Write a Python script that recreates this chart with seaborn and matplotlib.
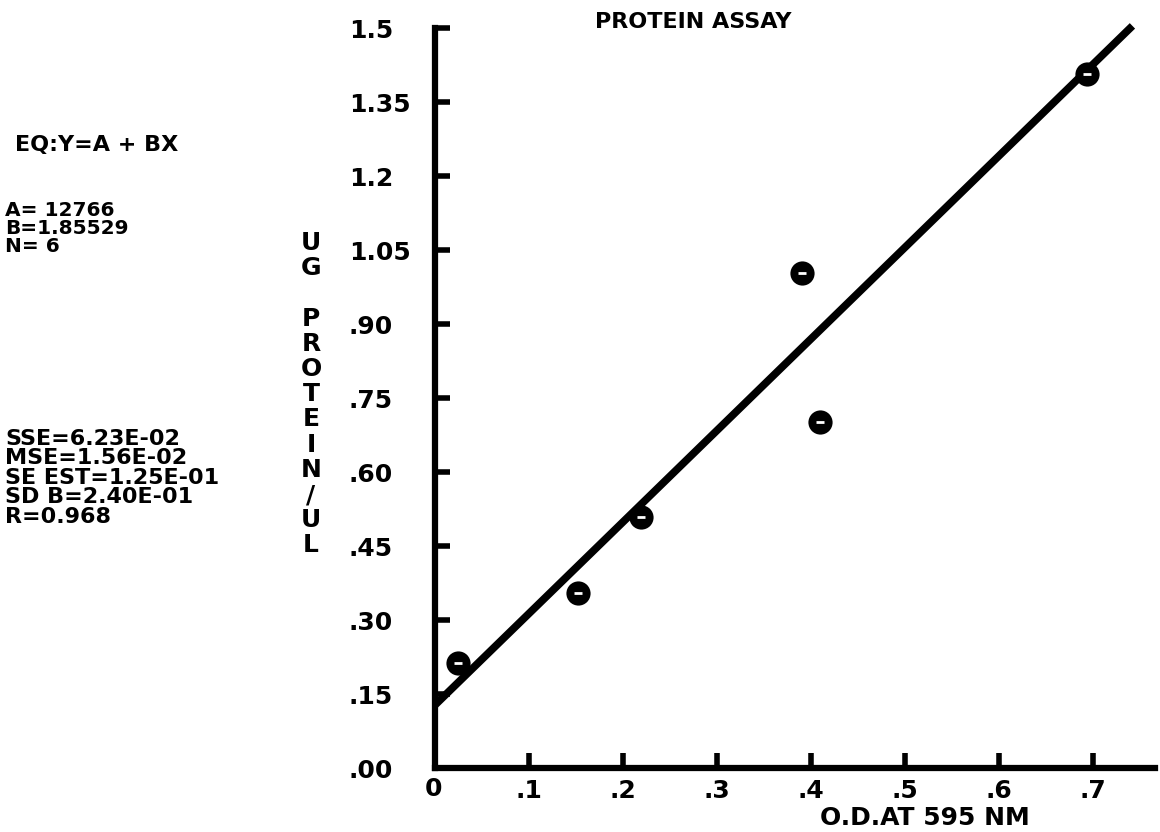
import matplotlib.pyplot as plt
import numpy as np
import pandas as pd
import seaborn as sns

# data
od_595 = [0.025, 0.152, 0.219, 0.390, 0.410, 0.694]
ug_protein = [0.213, 0.355, 0.509, 1.003, 0.701, 1.407]
fit_a = 0.12766
fit_b = 1.85529
fit_x = [0.0, 0.742]

y_ticks = [1.5, 1.35, 1.2, 1.05, 0.90, 0.75, 0.60, 0.45, 0.30, 0.15, 0.00]
y_tick_labels = ["1.5", "1.35", "1.2", "1.05", ".90", ".75", ".60", ".45", ".30", ".15", ".00"]
x_ticks = [0.1, 0.2, 0.3, 0.4, 0.5, 0.6, 0.7]
x_tick_labels = [".1", ".2", ".3", ".4", ".5", ".6", ".7"]

eq_lines = ["A= 12766", "B=1.85529", "N= 6"]
stat_lines = ["SSE=6.23E-02", "MSE=1.56E-02", "SE EST=1.25E-01", "SD B=2.40E-01", "R=0.968"]
y_label_letters = list("UG PROTEIN/UL")

sns.set_style("white")
plt.rcParams['font.family'] = ['DejaVu Sans']
plt.rcParams['font.weight'] = 'bold'
plt.rcParams['text.color'] = 'black'
plt.rcParams['xtick.color'] = 'black'
plt.rcParams['ytick.color'] = 'black'

W, H = 1160, 832
fig = plt.figure(figsize=(W / 100, H / 100), dpi=100)
ax = fig.add_axes([435 / W, 1 - 768 / H, (1155 - 435) / W, (768 - 28) / H])

pts = pd.DataFrame({"od": od_595, "protein": ug_protein})
line = pd.DataFrame({"od": fit_x, "protein": [fit_a + fit_b * v for v in fit_x]})

sns.lineplot(data=line, x="od", y="protein", color="black", linewidth=5.5,
             ax=ax, clip_on=False, solid_capstyle="butt")
sns.scatterplot(data=pts, x="od", y="protein", color="black", s=260,
                marker="o", edgecolor="black", ax=ax, zorder=4, clip_on=False)
ax.scatter(od_595, ug_protein, marker="_", s=40, color="white", linewidths=2, zorder=5)

ax.set_xlim(0, 0.766)
ax.set_ylim(0, 1.5)
for s in ["top", "right"]:
    ax.spines[s].set_visible(False)
for s in ["left", "bottom"]:
    ax.spines[s].set_linewidth(4.5)
    ax.spines[s].set_color("black")

ax.set_yticks(y_ticks)
ax.set_yticklabels(y_tick_labels, fontsize=18, fontweight="bold")
for lab in ax.get_yticklabels():
    lab.set_horizontalalignment("left")
ax.set_xticks(x_ticks)
ax.set_xticklabels(x_tick_labels, fontsize=18, fontweight="bold")
ax.tick_params(axis="y", left=True, direction="in", length=11, width=4, pad=62)
ax.tick_params(axis="x", bottom=True, direction="in", length=11, width=4, pad=8)
for t in ax.yaxis.get_major_ticks() + ax.xaxis.get_major_ticks():
    t.tick1line.set_clip_on(False)
ax.set_xlabel("")
ax.set_ylabel("")

# origin label
fig.text(433 / W, 1 - 789 / H, "0", fontsize=18, fontweight="bold", ha="center", va="center")

fig.text(693 / W, 1 - 22 / H, "PROTEIN ASSAY", fontsize=16, fontweight="bold", ha="center", va="center")
fig.text(820 / W, 1 - 818 / H, "O.D.AT 595 NM", fontsize=18, fontweight="bold", ha="left", va="center")

fig.text(15 / W, 1 - 145 / H, "EQ:Y=A + BX", fontsize=16, fontweight="bold", ha="left", va="center")
for i, t in enumerate(eq_lines):
    fig.text(5 / W, 1 - (210 + i * 18) / H, t, fontsize=14.5, fontweight="bold", ha="left", va="center")
for i, t in enumerate(stat_lines):
    fig.text(5 / W, 1 - (439 + i * 19.5) / H, t, fontsize=16, fontweight="bold", ha="left", va="center")

# vertical y-axis label, one letter per line
for i, ch in enumerate(y_label_letters):
    if ch != " ":
        fig.text(311 / W, 1 - (243 + i * 25.2) / H, ch, fontsize=18, fontweight="bold",
                 ha="center", va="center")

fig.savefig("out.png", dpi=100)
